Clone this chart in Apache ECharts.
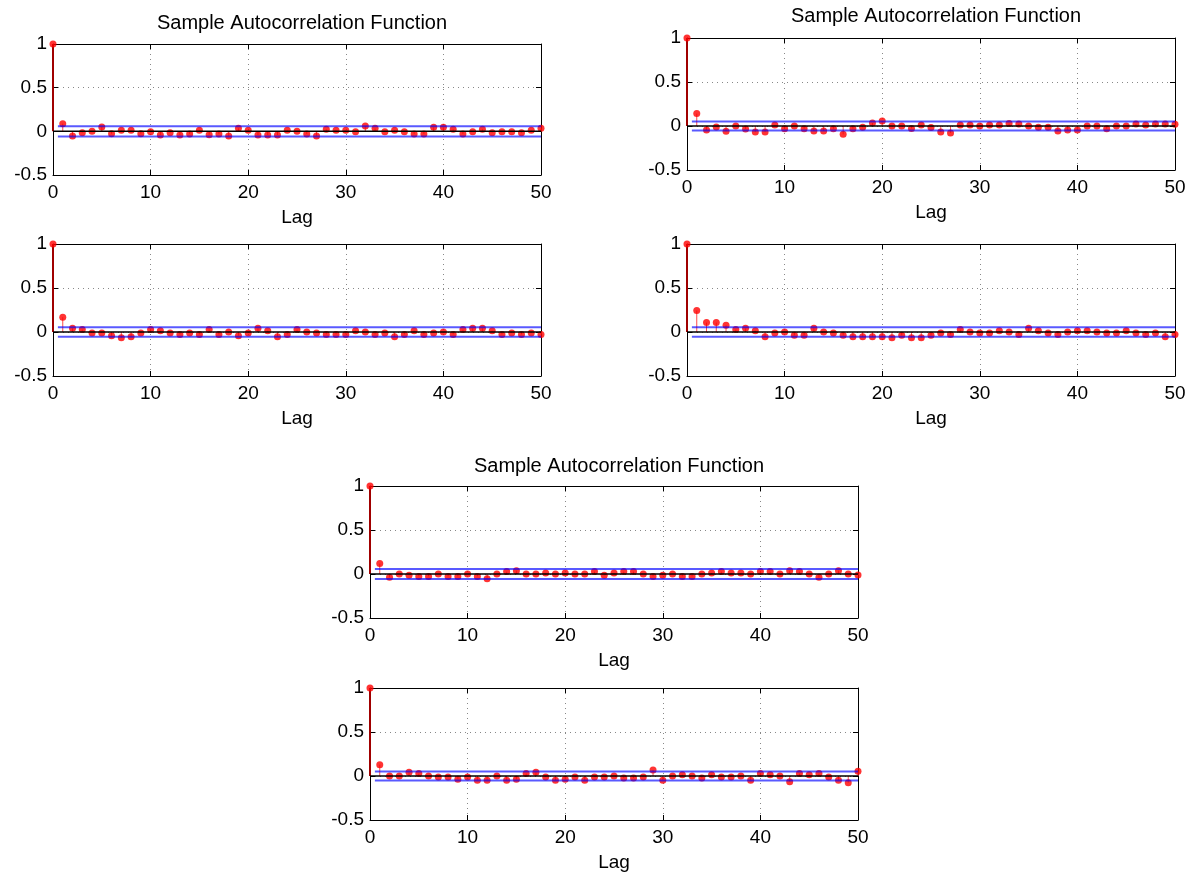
<!DOCTYPE html>
<html><head><meta charset="utf-8">
<script src="https://cdn.jsdelivr.net/npm/echarts@6/dist/echarts.min.js"></script>
<style>html,body{margin:0;padding:0;background:#fff}#c{width:1197px;height:873px}</style>
</head><body><div id="c"></div>
<script>
const lags = Array.from({length: 51}, (_, i) => i);
const acf1 = [1, 0.088, -0.053, -0.015, 0, 0.05, -0.027, 0.011, 0.011, -0.027, -0.004, -0.042, -0.015, -0.042, -0.03, 0.011, -0.038, -0.03, -0.053, 0.034, 0.011, -0.042, -0.042, -0.042, 0.011, 0, -0.03, -0.053, 0.023, 0.011, 0.011, -0.004, 0.061, 0.034, -0.004, 0.011, -0.004, -0.03, -0.03, 0.046, 0.046, 0.023, -0.03, -0.004, 0.023, -0.015, -0.004, -0.004, -0.015, 0.011, 0.034];
const acf2 = [1, 0.141, -0.046, -0.011, -0.061, 0, -0.034, -0.069, -0.069, 0.011, -0.031, 0, -0.031, -0.057, -0.057, -0.031, -0.095, -0.031, -0.015, 0.034, 0.057, 0, 0, -0.027, 0.011, -0.017, -0.069, -0.08, 0.011, 0.011, 0, 0.011, 0.011, 0.027, 0.023, 0, -0.015, -0.015, -0.057, -0.046, -0.046, 0, 0, -0.031, 0, 0, 0.023, 0.011, 0.023, 0.023, 0.019];
const acf3 = [1, 0.168, 0.042, 0.027, -0.011, -0.011, -0.042, -0.065, -0.053, -0.011, 0.027, 0.015, -0.011, -0.027, -0.011, -0.027, 0.027, -0.027, 0, -0.042, -0.011, 0.042, 0.015, -0.053, -0.027, 0.027, 0, -0.011, -0.027, -0.027, -0.027, 0.015, 0, -0.027, -0.011, -0.053, -0.027, 0.015, -0.027, -0.011, 0, -0.027, 0.027, 0.042, 0.042, 0.015, -0.027, -0.011, -0.027, -0.011, -0.027];
const acf4 = [1, 0.244, 0.107, 0.107, 0.076, 0.027, 0.042, 0.015, -0.053, -0.011, 0, -0.038, -0.038, 0.042, 0, -0.011, -0.038, -0.053, -0.053, -0.053, -0.053, -0.065, -0.038, -0.065, -0.065, -0.038, -0.011, -0.027, 0.027, 0, -0.011, -0.011, 0.015, 0, -0.027, 0.042, 0.015, -0.011, -0.027, 0, 0.015, 0.015, 0, -0.011, -0.011, 0.015, -0.011, -0.027, -0.011, -0.053, -0.027];
const acf5 = [1, 0.118, -0.038, 0, -0.015, -0.027, -0.027, 0, -0.027, -0.027, 0, -0.027, -0.053, 0, 0.027, 0.038, 0, 0, 0.011, 0, 0.011, 0, 0, 0.027, -0.015, 0.011, 0.027, 0.027, 0, -0.027, -0.015, 0, -0.027, -0.027, 0, 0.011, 0.027, 0.011, 0.011, 0, 0.027, 0.027, 0, 0.038, 0.027, 0, -0.038, 0, 0.038, 0, -0.011];
const acf6 = [1, 0.129, 0, 0, 0.042, 0.027, 0, -0.011, -0.011, -0.038, -0.011, -0.049, -0.049, 0, -0.049, -0.038, 0.027, 0.042, -0.011, -0.049, -0.038, -0.011, -0.049, -0.011, -0.011, 0, -0.023, -0.023, -0.011, 0.068, -0.049, 0, 0.015, 0, -0.023, 0.015, -0.011, -0.011, 0, -0.049, 0.027, 0.015, 0, -0.064, 0.027, 0.015, 0.027, -0.011, -0.049, -0.076, 0.053];
const bounds = [0.059, 0.052, 0.053, 0.053, 0.057, 0.051];
const titleText = 'Sample Autocorrelation Function';
const xName = 'Lag';
const xMin = 0, xMax = 50, xStep = 10;
const yMin = -0.5, yMax = 1, yStep = 0.5;
const boundStart = 0.5;

const allAcf = [acf1, acf2, acf3, acf4, acf5, acf6];
const boxes = [
  {left: 53, top: 44, width: 488, height: 131, title: true, tx: 297, ty: 8},
  {left: 687, top: 38, width: 488, height: 132, title: true, tx: 931, ty: 1},
  {left: 53, top: 244, width: 488, height: 132, title: false},
  {left: 687, top: 244, width: 488, height: 132, title: false},
  {left: 370, top: 486, width: 488, height: 132, title: true, tx: 614, ty: 451},
  {left: 370, top: 688, width: 488, height: 132, title: false}
];
const FONT = 'Liberation Sans, Arial, Helvetica, sans-serif';
const FS = 19;

const grid = [], xAxis = [], yAxis = [], series = [], title = [];
boxes.forEach((b, i) => {
  grid.push({left: b.left, top: b.top, width: b.width, height: b.height, show: false});
  if (b.title) title.push({text: titleText, left: b.tx, top: b.ty, textAlign: 'center',
    textStyle: {fontFamily: FONT, fontSize: 20, fontWeight: 'normal', color: '#000'}});
  const lineStyle = {color: '#000', width: 1};
  xAxis.push({type: 'value', gridIndex: i, min: xMin, max: xMax, interval: xStep, position: 'bottom',
    name: xName, nameLocation: 'middle', nameGap: 33,
    nameTextStyle: {fontFamily: FONT, fontSize: FS, color: '#000'},
    axisLine: {show: true, onZero: false, lineStyle},
    axisTick: {show: true, inside: true, length: 5, lineStyle},
    axisLabel: {fontFamily: FONT, fontSize: FS, color: '#000', margin: 8},
    splitLine: {show: true, lineStyle: {color: '#888', type: [1, 4], width: 1}}});
  xAxis.push({type: 'value', gridIndex: i, min: xMin, max: xMax, interval: xStep, position: 'top',
    axisLine: {show: true, onZero: false, lineStyle},
    axisTick: {show: true, inside: true, length: 5, lineStyle},
    axisLabel: {show: false}, splitLine: {show: false}});
  yAxis.push({type: 'value', gridIndex: i, min: yMin, max: yMax, interval: yStep, position: 'left',
    axisLine: {show: true, onZero: false, lineStyle},
    axisTick: {show: true, inside: true, length: 5, lineStyle},
    axisLabel: {fontFamily: FONT, fontSize: FS, color: '#000', margin: 6},
    splitLine: {show: true, lineStyle: {color: '#888', type: [1, 4], width: 1}}});
  yAxis.push({type: 'value', gridIndex: i, min: yMin, max: yMax, interval: yStep, position: 'right',
    axisLine: {show: true, onZero: false, lineStyle},
    axisTick: {show: true, inside: true, length: 5, lineStyle},
    axisLabel: {show: false}, splitLine: {show: false}});
  const acf = allAcf[i];
  const pts = lags.map((l, k) => [l, acf[k]]);
  const xi = 2 * i, yi = 2 * i;
  series.push({type: 'custom', xAxisIndex: xi, yAxisIndex: yi, data: pts, z: 3, silent: true,
    renderItem: (params, api) => {
      const p0 = api.coord([api.value(0), 0]);
      const p1 = api.coord([api.value(0), api.value(1)]);
      const first = api.value(0) === 0;
      return {type: 'line', shape: {x1: p0[0], y1: p0[1], x2: p1[0], y2: p1[1]},
        style: {stroke: first ? '#a00000' : '#ff4a4a', lineWidth: first ? 2 : 1}};
    }});
  series.push({type: 'scatter', xAxisIndex: xi, yAxisIndex: yi, data: pts, symbol: 'circle', symbolSize: 7,
    itemStyle: {color: '#ff0000'}, z: 4, silent: true});
  const bd = bounds[i];
  [bd, -bd].forEach(v => series.push({type: 'line', xAxisIndex: xi, yAxisIndex: yi,
    data: [[boundStart, v], [xMax, v]], symbol: 'none', silent: true, z: 5,
    lineStyle: {color: 'rgba(0,0,255,0.65)', width: 2}}));
  series.push({type: 'line', xAxisIndex: xi, yAxisIndex: yi, data: [[xMin, 0], [xMax, 0]], symbol: 'none',
    silent: true, z: 6, lineStyle: {color: '#000', width: 1.5}});
});

const chart = echarts.init(document.getElementById('c'), null, {renderer: 'canvas'});
chart.setOption({animation: false, backgroundColor: '#fff', title, grid, xAxis, yAxis, series});
</script></body></html>
